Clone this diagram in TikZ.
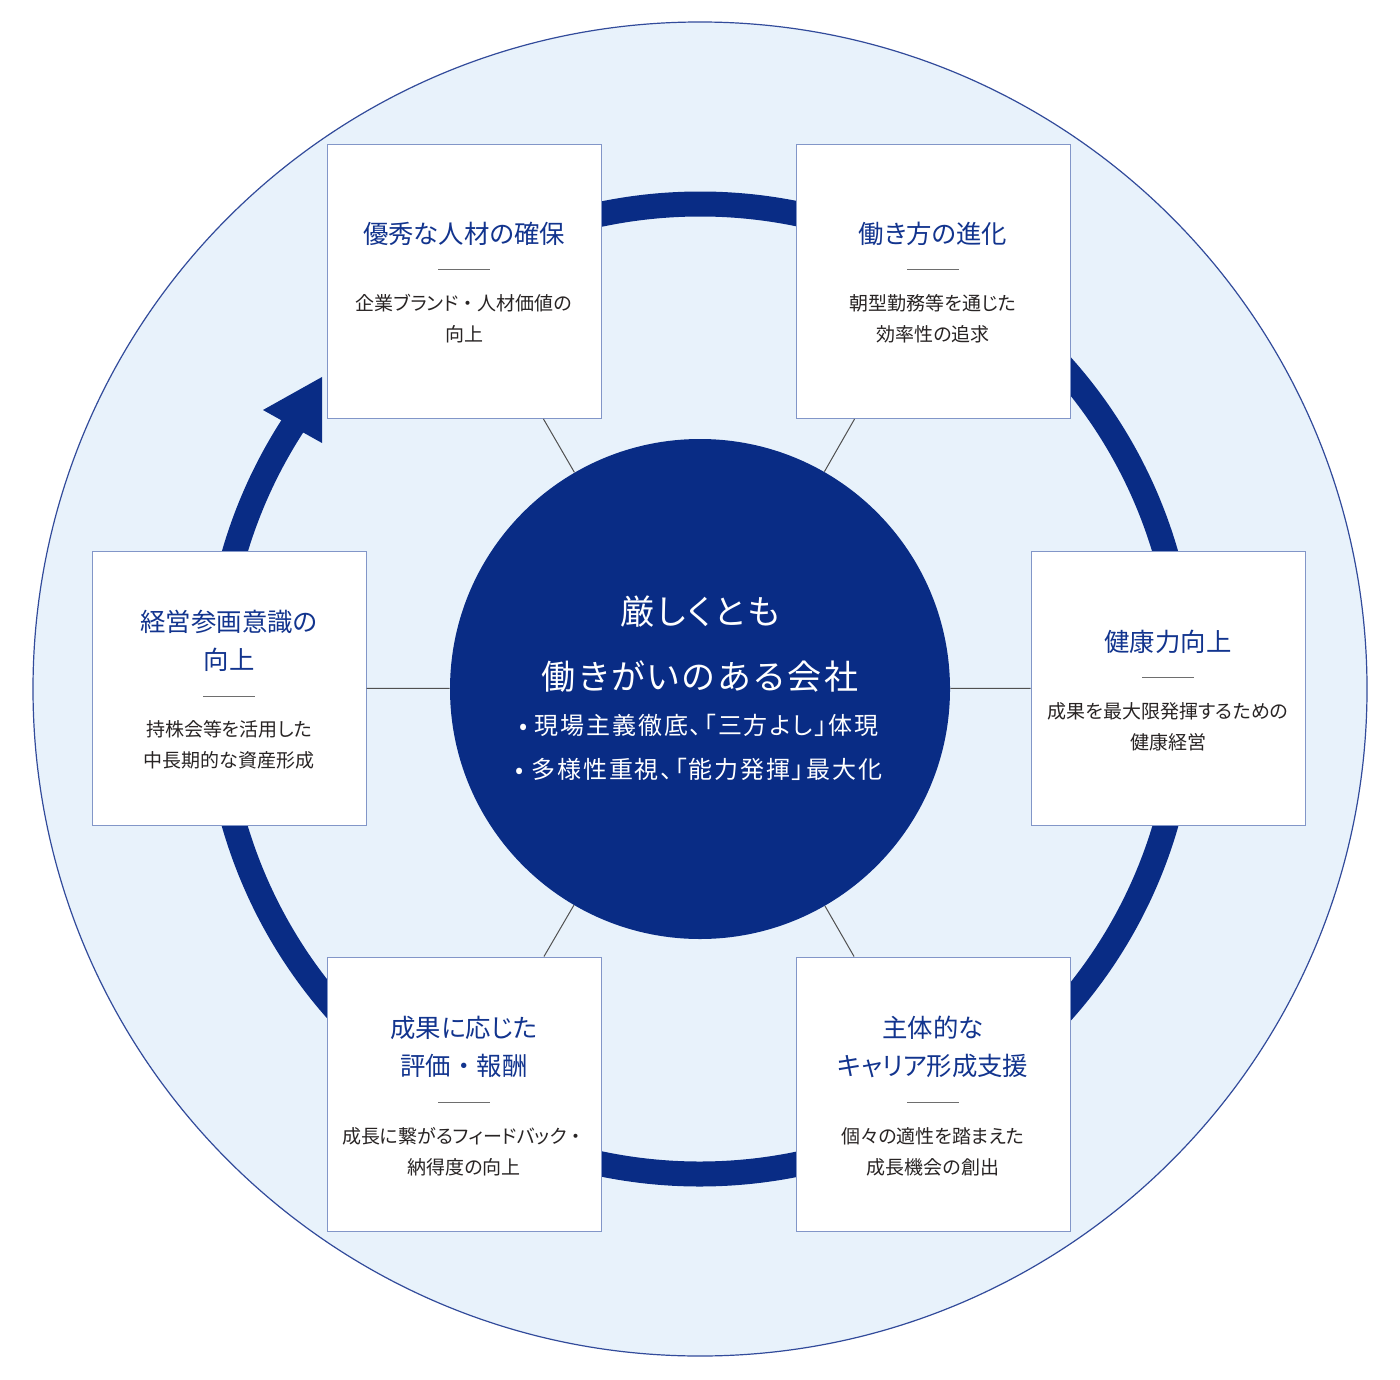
\documentclass[tikz,border=0pt]{standalone}
\usepackage{fontspec}
\setmainfont{Noto Sans CJK JP}[RawFeature={+palt}]
\newfontfamily\plainjp{Noto Sans CJK JP}
\newfontfamily\bigfont{Noto Sans CJK JP}[RawFeature={+palt},LetterSpace=8.5]
\newfontfamily\bulfont{Noto Sans CJK JP}[RawFeature={+palt},LetterSpace=8]
\newcommand{\fwdot}{{\plainjp ・}}
\usetikzlibrary{calc}
\definecolor{navy}{RGB}{9,44,133}
\definecolor{bgblue}{RGB}{232,242,251}
\definecolor{outerline}{RGB}{50,75,155}
\definecolor{titleblue}{RGB}{18,52,142}
\definecolor{boxline}{RGB}{130,150,200}
\definecolor{subgray}{RGB}{40,36,36}
\definecolor{connline}{RGB}{80,80,80}
\definecolor{sepgray}{RGB}{110,110,110}
\begin{document}
\begin{tikzpicture}[x=0.5pt,y=-0.5pt,
  card/.style={draw=boxline, fill=white, line width=0.5pt, minimum size=137pt, inner sep=0pt},
  conn/.style={draw=connline, line width=0.5pt},
  ttl/.style={text=titleblue, font=\fontsize{12.7}{19}\selectfont, align=center, inner sep=0pt},
  subt/.style={text=subgray, font=\fontsize{9.5}{15.5}\selectfont, align=center, inner sep=0pt},
  sep/.style={draw=sepgray, line width=0.5pt},
  bigtxt/.style={text=white, font=\bigfont\fontsize{17}{22}\selectfont, inner sep=0pt},
  bultxt/.style={text=white, font=\bulfont\fontsize{12}{16}\selectfont, inner sep=0pt}]
\useasboundingbox (0,0) rectangle (1400,1379);
\fill[white] (0,0) rectangle (1400,1379);
\coordinate (c) at (700,689);
% outer circle
\draw[draw=outerline, fill=bgblue, line width=0.6pt] (c) circle[radius=667];
% ring with arrow
\draw[navy, line width=12.5pt] ($(c)+(-138:485)$) arc[start angle=-138, end angle=214, radius=485];
\fill[navy] (322,377) -- (263,410) -- (322,443) -- cycle;
% hub
\node[circle, fill=navy, minimum size=250pt, inner sep=0pt] (hub) at (c) {};
% boxes
\node[card] (tl) at (464,281.5) {};
\node[card] (tr) at (933,281.5) {};
\node[card] (r)  at (1168,688) {};
\node[card] (br) at (933,1094) {};
\node[card] (bl) at (464,1094) {};
\node[card] (l)  at (229,688) {};
% connectors
\draw[conn] (hub) -- (tl);
\draw[conn] (hub) -- (tr);
\draw[conn] (hub) -- (r);
\draw[conn] (hub) -- (br);
\draw[conn] (hub) -- (bl);
\draw[conn] (hub) -- (l);
% hub text
\node[bigtxt] (h1) at (700,612) {厳しくとも};
\node[bigtxt] (h2) at (700,677) {働きがいのある会社};
\node[bultxt] (h3) at (699,725) {• 現場主義徹底、「三方よし」体現};
\node[bultxt] (h4) at (699,769) {• 多様性重視、「能力発揮」最大化};
% top-left
\node[ttl] (tlt) at ($(tl.north)+(0,90)$) {優秀な人材の確保};
\draw[sep] ($(tl.north)+(-26,126)$) coordinate (tls1) -- ($(tl.north)+(26,126)$) coordinate (tls2);
\node[subt] (tls) at ($(tl.north)+(0,175)$) {企業ブランド\fwdot 人材価値の\\向上};
% top-right
\node[ttl] (trt) at ($(tr.north)+(0,90)$) {働き方の進化};
\draw[sep] ($(tr.north)+(-26,126)$) coordinate (trs1) -- ($(tr.north)+(26,126)$) coordinate (trs2);
\node[subt] (trs) at ($(tr.north)+(0,175)$) {朝型勤務等を通じた\\効率性の追求};
% right
\node[ttl] (rt) at ($(r.north)+(0,91)$) {健康力向上};
\draw[sep] ($(r.north)+(-26,127)$) coordinate (rs1) -- ($(r.north)+(26,127)$) coordinate (rs2);
\node[subt] (rs) at ($(r.north)+(0,176)$) {成果を最大限発揮するための\\健康経営};
% bottom-right
\node[ttl] (brt) at ($(br.north)+(0,90)$) {主体的な\\キャリア形成支援};
\draw[sep] ($(br.north)+(-26,146)$) coordinate (brs1) -- ($(br.north)+(26,146)$) coordinate (brs2);
\node[subt] (brs) at ($(br.north)+(0,195)$) {個々の適性を踏まえた\\成長機会の創出};
% bottom-left
\node[ttl] (blt) at ($(bl.north)+(0,90)$) {成果に応じた\\評価\fwdot 報酬};
\draw[sep] ($(bl.north)+(-26,146)$) coordinate (bls1) -- ($(bl.north)+(26,146)$) coordinate (bls2);
\node[subt] (bls) at ($(bl.north)+(0,195)$) {成長に繋がるフィードバック\fwdot\\納得度の向上};
% left
\node[ttl] (lt) at ($(l.north)+(0,90)$) {経営参画意識の\\向上};
\draw[sep] ($(l.north)+(-26,146)$) coordinate (ls1) -- ($(l.north)+(26,146)$) coordinate (ls2);
\node[subt] (ls) at ($(l.north)+(0,194)$) {持株会等を活用した\\中長期的な資産形成};
\end{tikzpicture}
\end{document}
